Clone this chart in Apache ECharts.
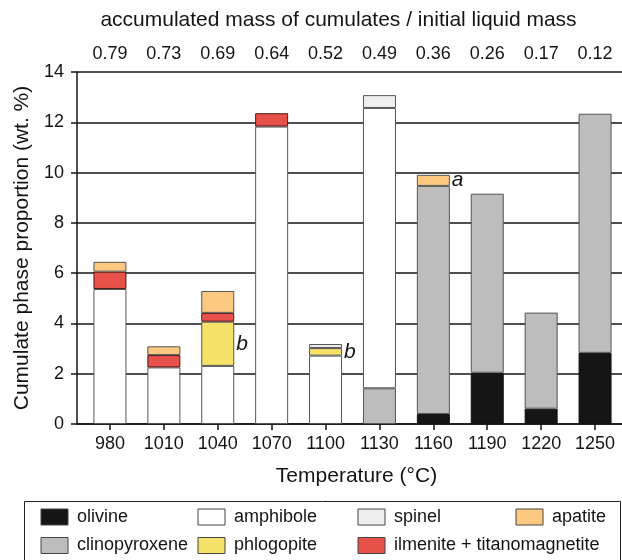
<!DOCTYPE html>
<html><head><meta charset="utf-8">
<script src="https://cdn.jsdelivr.net/npm/echarts@6/dist/echarts.min.js"></script>
<style>html,body{margin:0;padding:0;background:#fff}#c{width:622px;height:560px}</style>
</head><body><div id="c"></div>
<script>
// ---- data ----
const temperatures = ['980', '1010', '1040', '1070', '1100', '1130', '1160', '1190', '1220', '1250'];
const massRatios = ['0.79', '0.73', '0.69', '0.64', '0.52', '0.49', '0.36', '0.26', '0.17', '0.12'];
const olivine       = [null, null, null, null, null, null, 0.40, 2.04, 0.61, 2.83];
const clinopyroxene = [null, null, null, null, null, 1.42, 9.07, 7.12, 3.82, 9.51];
const amphibole     = [5.37, 2.25, 2.31, 11.83, 2.72, 11.15, null, null, null, null];
const phlogopite    = [null, null, 1.76, null, 0.30, null, null, null, null, null];
const ilmenite      = [0.69, 0.49, 0.35, 0.53, null, null, null, null, null, null];
const apatite       = [0.39, 0.35, 0.87, null, null, null, 0.44, null, null, null];
const spinel        = [null, null, null, null, 0.16, 0.51, null, null, null, null];
const phlogopiteNotes = {2: 'b', 4: 'b'};
const apatiteNotes = {6: 'a'};
const yTicks = {min: 0, max: 14, step: 2};
const topTitle = 'accumulated mass of cumulates / initial liquid mass';
const xTitle = 'Temperature (°C)';
const yTitle = 'Cumulate phase proportion (wt. %)';

// ---- chart ----
const FONT = '"Liberation Sans", Arial, Helvetica, sans-serif';
const INK = '#141414';
const phases = [
  {name: 'olivine', values: olivine, color: '#151515', border: '#111'},
  {name: 'clinopyroxene', values: clinopyroxene, color: '#bcbdbc', border: '#555'},
  {name: 'amphibole', values: amphibole, color: '#ffffff', border: '#555'},
  {name: 'phlogopite', values: phlogopite, color: '#f6e169', border: '#555', notes: phlogopiteNotes},
  {name: 'ilmenite + titanomagnetite', values: ilmenite, color: '#e8504a', border: '#4a1a18'},
  {name: 'apatite', values: apatite, color: '#fdc980', border: '#555', notes: apatiteNotes},
  {name: 'spinel', values: spinel, color: '#efefef', border: '#555'}
];

const series = phases.map(p => ({
  type: 'bar', name: p.name, stack: 'total', barWidth: 33,
  xAxisIndex: 0, yAxisIndex: 0,
  itemStyle: {color: p.color, borderColor: p.border, borderWidth: 1},
  emphasis: {disabled: true},
  data: p.values.map((v, i) => {
    if (v == null) return '-';
    if (p.notes && p.notes[i]) {
      return {value: v, label: {show: true, position: 'right', distance: 2,
        formatter: p.notes[i], fontStyle: 'italic', fontSize: 21, color: INK, fontFamily: FONT}};
    }
    return v;
  })
}));

const legendCols = [
  ['olivine', 'clinopyroxene'],
  ['amphibole', 'phlogopite'],
  ['spinel', 'ilmenite + titanomagnetite'],
  ['apatite']
];
const legendLeft = [40.5, 197.5, 357.5, 515.5];
const legends = legendCols.map((names, k) => ({
  orient: 'vertical', left: legendLeft[k], top: 508, padding: 0,
  itemWidth: 27, itemHeight: 16, itemGap: 10.5, selectedMode: false,
  icon: 'rect',
  itemStyle: {borderColor: '#444', borderWidth: 1},
  textStyle: {fontSize: 18, lineHeight: 18, color: INK, fontFamily: FONT, padding: [0, 0, 0, 4]},
  data: names
}));

const option = {
  animation: false,
  backgroundColor: '#fff',
  textStyle: {fontFamily: FONT},
  grid: [
    {left: 83, right: 0, top: 72, bottom: 136},
    {left: 77, right: 0, top: 72, bottom: 136}
  ],
  xAxis: [
    {type: 'category', gridIndex: 0, data: temperatures, position: 'bottom',
     axisLine: {show: false},
     axisTick: {show: true, alignWithLabel: true, length: 6, lineStyle: {color: INK, width: 1.5}},
     axisLabel: {fontSize: 18, color: INK, margin: 11, fontFamily: FONT},
     name: xTitle, nameLocation: 'middle', nameGap: 42,
     nameTextStyle: {fontSize: 21, color: INK, fontFamily: FONT, padding: [0, 0, 0, 8]}},
    {type: 'category', gridIndex: 0, data: massRatios, position: 'top',
     axisLine: {show: false}, axisTick: {show: false},
     axisLabel: {fontSize: 18, color: INK, margin: 9, fontFamily: FONT},
     name: topTitle, nameLocation: 'middle', nameGap: 41,
     nameTextStyle: {fontSize: 21, color: INK, fontFamily: FONT, padding: [0, 28, 0, 0]}},
    {type: 'value', gridIndex: 1, min: 0, max: 1, position: 'bottom',
     axisLine: {show: true, lineStyle: {color: INK, width: 1.5}},
     axisTick: {show: false}, axisLabel: {show: false}, splitLine: {show: false}}
  ],
  yAxis: [
    {type: 'value', gridIndex: 0, min: yTicks.min, max: yTicks.max, interval: yTicks.step, show: false},
    {type: 'value', gridIndex: 1, min: yTicks.min, max: yTicks.max, interval: yTicks.step,
     axisLine: {show: true, lineStyle: {color: INK, width: 1.5}},
     axisTick: {show: true, length: 6, lineStyle: {color: INK, width: 1.5}},
     axisLabel: {fontSize: 18, color: INK, margin: 13, fontFamily: FONT},
     splitLine: {show: true, lineStyle: {color: INK, width: 1.5}},
     name: yTitle, nameLocation: 'middle', nameGap: 44,
     nameTextStyle: {fontSize: 21, color: INK, fontFamily: FONT}}
  ],
  legend: legends,
  graphic: [{type: 'rect', silent: true, z: 0,
    shape: {x: 24.5, y: 501.5, width: 596, height: 70},
    style: {fill: 'none', stroke: '#222', lineWidth: 1}}],
  series: series
};
const chart = echarts.init(document.getElementById('c'), null, {renderer: 'canvas'});
chart.setOption(option);
</script></body></html>
